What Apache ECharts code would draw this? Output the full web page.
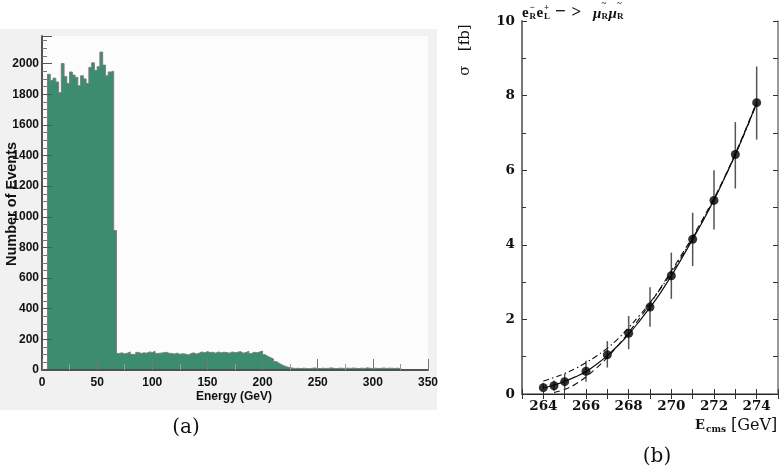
<!DOCTYPE html>
<html>
<head>
<meta charset="utf-8">
<style>html,body{margin:0;padding:0;background:#fff;}#c{width:781px;height:473px;}</style>
<script src="https://cdn.jsdelivr.net/npm/echarts@6/dist/echarts.min.js"></script>
</head>
<body>
<div id="c"></div>
<script>
// ---------- Panel (a): histogram ----------
const binWidth = 2.5; // GeV
const histCounts = [
  0, 0,
  1930, 1890, 1905, 1880, 1810, 2000, 1915, 1870, 1945, 1925, 1910, 1855,
  1920, 1900, 1870, 1975, 2005, 1955, 1980, 2075, 1990, 1920, 1945, 1950,
  910,
  108, 112, 105, 110, 118, 102, 100, 115, 108, 112, 110, 118, 114, 122, 108, 110,
  112, 116, 110, 108, 104, 110, 102, 106, 104, 98, 106, 112, 104, 110, 118, 112,
  120, 114, 116, 110, 118, 112, 116, 114, 110, 118, 112, 116, 120, 110, 114, 122,
  108, 116, 112, 118, 124,
  100, 88, 80, 72, 55, 44, 34, 26, 20, 15,
  12, 10, 11, 9, 12, 10, 8, 11, 13, 10, 9, 12, 10, 11, 14, 10, 9, 12, 11, 10,
  12, 10, 13, 11, 9, 12, 10, 14, 11, 10, 12, 9, 11, 13, 10, 12, 11, 10, 12, 9,
  0, 0, 0, 0, 0, 0, 0, 0, 0, 0
];
const histXTicks = [0, 50, 100, 150, 200, 250, 300, 350];

// ---------- Panel (b): cross-section scan ----------
const ecms = [264, 264.5, 265, 266, 267, 268, 269, 270, 271, 272, 273, 274];
const sigma = [0.17, 0.22, 0.33, 0.61, 1.05, 1.63, 2.33, 3.17, 4.15, 5.19, 6.42, 7.81];
const sigmaLow = [0.05, 0.08, 0.13, 0.33, 0.71, 1.20, 1.80, 2.55, 3.43, 4.41, 5.51, 6.82];
const sigmaHigh = [0.30, 0.36, 0.54, 0.89, 1.42, 2.09, 2.86, 3.79, 4.86, 6.00, 7.29, 8.78];

const fitE = [264, 264.5, 265, 265.5, 266, 266.5, 267, 267.5, 268, 268.5, 269, 269.5, 270, 270.5, 271, 271.5, 272, 272.5, 273, 273.5, 274];
const fitSolid = [0.16, 0.24, 0.34, 0.46, 0.60, 0.80, 1.03, 1.30, 1.60, 1.95, 2.32, 2.72, 3.17, 3.65, 4.15, 4.66, 5.20, 5.80, 6.42, 7.10, 7.80];
const fitDashed = [null, 0.04, 0.12, 0.26, 0.46, 0.70, 0.98, 1.30, 1.65, 2.02, 2.42, 2.85, 3.30, 3.75, 4.22, 4.72, 5.25, 5.82, 6.45, 7.12, 7.82];
const fitDashDot = [0.35, 0.44, 0.55, 0.68, 0.84, 1.02, 1.23, 1.48, 1.78, 2.10, 2.45, 2.83, 3.25, 3.70, 4.18, 4.68, 5.22, 5.80, 6.42, 7.08, 7.78];

// ---------- build ----------
const histData = histCounts.map((c, i) => [i * binWidth, c]);
histData.push([histCounts.length * binWidth, 0]);
const pairs = (xs, ys) => xs.map((x, i) => [x, ys[i]]).filter(p => p[1] !== null);

const sans = 'Liberation Sans';
const serif = 'DejaVu Serif';
const tserif = 'Liberation Serif';

const chart = echarts.init(document.getElementById('c'), null, {renderer: 'canvas'});

function txt(x, y, text, font, opts) {
  return {
    type: 'text', x: x, y: y, silent: true,
    style: Object.assign({text: text, font: font, fill: '#111', align: 'left', verticalAlign: 'middle'}, opts || {})
  };
}

const titleFont = 'bold 15px ' + tserif;
const smallFont = 'bold 9px ' + tserif;

chart.setOption({
  animation: false,
  backgroundColor: '#fff',
  graphic: [
    {type: 'rect', z: -100, silent: true, shape: {x: 0, y: 29, width: 437, height: 381}, style: {fill: '#f1f1f1'}},
    txt(234, 397, 'Energy (GeV)', 'bold 12px ' + sans, {align: 'center'}),
    Object.assign(txt(11.5, 204, 'Number of Events', 'bold 14.5px ' + sans, {align: 'center'}), {rotation: Math.PI / 2}),
    txt(186, 428, '(a)', '20px ' + serif, {align: 'center'}),
    txt(657, 457, '(b)', '20px ' + serif, {align: 'center'}),
    Object.assign(txt(465, 50, 'σ   [fb]', '15px ' + serif, {align: 'center'}), {rotation: Math.PI / 2}),
    txt(695, 426, 'E', 'bold 13px ' + serif),
    txt(706, 430, 'cms', 'bold 9px ' + serif),
    txt(731, 426, '[GeV]', '16px ' + serif),
    // title e_R^- e_L^+ -> mu~_R mu~_R
    txt(522, 13, 'e', titleFont),
    txt(529.5, 8, '−', smallFont),
    txt(529.5, 17, 'R', smallFont),
    txt(536.5, 13, 'e', titleFont),
    txt(544, 7.5, '+', smallFont),
    txt(544, 17, 'L', smallFont),
    txt(555, 12.5, '−', 'bold 19px ' + tserif),
    txt(571.5, 12.5, '>', 'bold 17px ' + tserif),
    txt(593, 14, 'μ', 'italic bold 15px ' + tserif),
    txt(601.5, 4, '~', smallFont),
    txt(601.5, 17, 'R', smallFont),
    txt(608.5, 14, 'μ', 'italic bold 15px ' + tserif),
    txt(617, 4, '~', smallFont),
    txt(617, 17, 'R', smallFont)
  ],
  grid: [
    {left: 42, right: 353, top: 36, bottom: 103, show: true, backgroundColor: '#fcfcfc', borderWidth: 0},
    {left: 522, right: -1, top: 21, bottom: 79}
  ],
  xAxis: [
    {
      gridIndex: 0, type: 'value', min: 0, max: 350, interval: 50, z: 5,
      axisLine: {lineStyle: {color: '#444', width: 1.5}},
      axisTick: {inside: true, length: 11, lineStyle: {color: '#777', width: 1}},
      minorTick: {show: true, splitNumber: 2, length: 6, lineStyle: {color: '#999', width: 1}},
      axisLabel: {fontFamily: sans, fontWeight: 'bold', fontSize: 12, color: '#111', margin: 7, formatter: v => String(v)},
      splitLine: {show: false}
    },
    {
      gridIndex: 0, type: 'value', min: 0, max: 350, position: 'top',
      axisLine: {lineStyle: {color: '#555', width: 1.5}}, axisTick: {show: false}, axisLabel: {show: false}, splitLine: {show: false}
    },
    {
      gridIndex: 1, type: 'value', min: 263, max: 275, interval: 1, z: 5,
      axisLine: {lineStyle: {color: '#777', width: 1.5}},
      axisTick: {inside: true, length: 5, lineStyle: {color: '#333', width: 1}},
      axisLabel: {fontFamily: serif, fontWeight: 'bold', fontSize: 13.5, color: '#111', margin: 5,
        formatter: v => (v % 2 === 0 ? String(v) : '')},
      splitLine: {show: false}
    },
    {
      gridIndex: 1, type: 'value', min: 263, max: 275, interval: 1, position: 'top', z: 5,
      axisLine: {lineStyle: {color: '#222', width: 1}},
      axisTick: {inside: true, length: 5, lineStyle: {color: '#333', width: 1}},
      axisLabel: {show: false}, splitLine: {show: false}
    }
  ],
  yAxis: [
    {
      gridIndex: 0, type: 'value', min: 0, max: 2180, interval: 200, z: 5,
      axisLine: {show: true, lineStyle: {color: '#444', width: 1.5}},
      axisTick: {inside: true, length: 10, lineStyle: {color: '#555', width: 1}},
      minorTick: {show: true, splitNumber: 4, length: 5, lineStyle: {color: '#777', width: 1}},
      axisLabel: {fontFamily: sans, fontWeight: 'bold', fontSize: 12, color: '#111', margin: 3, showMaxLabel: false,
        formatter: v => String(v)},
      splitLine: {show: false}
    },
    {
      gridIndex: 0, type: 'value', min: 0, max: 2180, position: 'right',
      axisLine: {show: true, lineStyle: {color: '#555', width: 1.5}}, axisTick: {show: false}, axisLabel: {show: false}, splitLine: {show: false}
    },
    {
      gridIndex: 1, type: 'value', min: 0, max: 10, interval: 2, z: 5,
      axisLine: {show: true, lineStyle: {color: '#777', width: 2}},
      axisTick: {inside: true, length: 5, lineStyle: {color: '#333', width: 1}},
      minorTick: {show: true, splitNumber: 2, length: 4, lineStyle: {color: '#333', width: 1}},
      axisLabel: {fontFamily: serif, fontWeight: 'bold', fontSize: 13.5, color: '#111', margin: 7},
      splitLine: {show: false}
    },
    {
      gridIndex: 1, type: 'value', min: 0, max: 10, interval: 1, position: 'right', z: 5,
      axisLine: {show: true, lineStyle: {color: '#777', width: 1.5}},
      axisTick: {inside: true, length: 5, lineStyle: {color: '#333', width: 1}},
      axisLabel: {show: false}, splitLine: {show: false}
    }
  ],
  series: [
    {
      type: 'line', xAxisIndex: 0, yAxisIndex: 0, step: 'end', data: histData,
      showSymbol: false, symbol: 'none',
      lineStyle: {color: '#7d7d7d', width: 1},
      areaStyle: {color: '#3c8c6f', opacity: 1}
    },
    {
      type: 'line', xAxisIndex: 2, yAxisIndex: 2, data: pairs(fitE, fitSolid), smooth: 0.4,
      symbol: 'none', lineStyle: {color: '#111', width: 1.2}
    },
    {
      type: 'line', xAxisIndex: 2, yAxisIndex: 2, data: pairs(fitE, fitDashed), smooth: 0.4,
      symbol: 'none', lineStyle: {color: '#111', width: 1.1, type: [6, 4]}
    },
    {
      type: 'line', xAxisIndex: 2, yAxisIndex: 2, data: pairs(fitE, fitDashDot), smooth: 0.4,
      symbol: 'none', lineStyle: {color: '#111', width: 1.1, type: [6, 3, 1.5, 3]}
    },
    {
      type: 'custom', xAxisIndex: 2, yAxisIndex: 2,
      data: ecms.map((e, i) => [e, sigmaLow[i], sigmaHigh[i]]),
      renderItem: (params, api) => {
        const p1 = api.coord([api.value(0), api.value(1)]);
        const p2 = api.coord([api.value(0), api.value(2)]);
        return {type: 'line', shape: {x1: p1[0], y1: p1[1], x2: p2[0], y2: p2[1]},
          style: {stroke: '#555', lineWidth: 1.5}};
      }
    },
    {
      type: 'scatter', xAxisIndex: 2, yAxisIndex: 2, data: pairs(ecms, sigma),
      symbol: 'circle', symbolSize: 9, itemStyle: {color: '#000'}, z: 4
    }
  ]
});
</script>
</body>
</html>
